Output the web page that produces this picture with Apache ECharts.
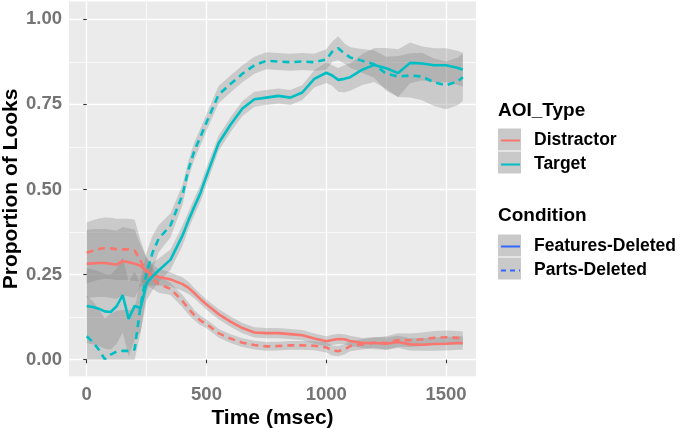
<!DOCTYPE html>
<html><head><meta charset="utf-8">
<script src="https://cdn.jsdelivr.net/npm/echarts@6/dist/echarts.min.js"></script>
<style>html,body{margin:0;padding:0;background:#fff}#c{width:685px;height:428px}</style>
</head><body><div id="c"></div>
<script>
// ---- data ----
const times = [0,25,50,75,100,125,150,175,200,225,250,275,300,350,400,425,450,475,500,550,600,650,700,750,800,850,900,950,1000,1025,1050,1075,1100,1150,1200,1250,1300,1350,1400,1450,1500,1550,1570];

// Target, Features-Deleted (solid teal)
const targetFeatures = [.158,.155,.150,.142,.140,.157,.190,.120,.158,.152,.225,.245,.262,.294,.365,.410,.451,.490,.540,.635,.690,.738,.765,.770,.775,.770,.785,.825,.843,.835,.822,.825,.830,.852,.866,.856,.842,.872,.870,.865,.865,.857,.852];
// Target, Parts-Deleted (dashed teal)
const targetParts = [.069,.052,.030,.002,.015,.024,.026,.026,.030,.160,.255,.315,.355,.395,.485,.560,.615,.655,.697,.778,.810,.840,.865,.878,.876,.874,.876,.874,.882,.905,.915,.900,.888,.878,.868,.840,.832,.835,.832,.815,.806,.818,.830];
// Distractor, Features-Deleted (solid red)
const distractorFeatures = [.282,.283,.284,.284,.282,.279,.290,.286,.282,.276,.260,.248,.243,.236,.222,.211,.195,.178,.162,.134,.112,.093,.080,.078,.078,.075,.072,.062,.054,.058,.061,.060,.055,.049,.049,.047,.052,.045,.044,.046,.047,.049,.049];
// Distractor, Parts-Deleted (dashed red)
const distractorParts = [.314,.320,.325,.328,.327,.324,.324,.324,.321,.290,.258,.238,.222,.208,.172,.150,.130,.115,.105,.078,.062,.050,.043,.039,.040,.042,.042,.041,.036,.027,.025,.030,.040,.045,.050,.049,.058,.057,.060,.064,.066,.064,.063];

// half-widths of the grey confidence ribbons
const seTargetFeatures = [.11,.11,.11,.11,.11,.11,.11,.11,.10,.07,.05,.04,.035,.03,.03,.025,.025,.025,.025,.022,.022,.022,.022,.022,.022,.022,.022,.025,.03,.03,.035,.04,.04,.045,.05,.06,.07,.06,.05,.05,.05,.05,.05];
const seTargetParts = [.12,.12,.12,.12,.12,.12,.12,.12,.12,.08,.06,.05,.04,.035,.03,.025,.025,.025,.025,.025,.025,.025,.025,.025,.025,.025,.025,.025,.03,.03,.035,.03,.03,.035,.04,.05,.06,.065,.07,.07,.07,.07,.07];
const seDistractorFeatures = [.10,.10,.10,.10,.10,.10,.10,.10,.10,.06,.04,.03,.025,.02,.02,.018,.015,.015,.015,.015,.015,.015,.015,.015,.015,.015,.015,.015,.015,.015,.015,.015,.015,.015,.018,.018,.018,.018,.018,.02,.02,.02,.02];
const seDistractorParts = [.09,.09,.09,.09,.09,.09,.09,.09,.09,.06,.04,.03,.025,.018,.018,.018,.015,.014,.013,.013,.013,.013,.013,.013,.013,.013,.013,.013,.015,.015,.015,.015,.015,.015,.015,.02,.02,.02,.02,.02,.02,.02,.02];

const xTicks = [0, 500, 1000, 1500];
const xMinorTicks = [250, 750, 1250];
const yTicks = [0, 0.25, 0.5, 0.75, 1];
const yMinorTicks = [0.125, 0.375, 0.625, 0.875];
const aoiTypes = ['Distractor', 'Target'];
const conditions = ['Features-Deleted', 'Parts-Deleted'];

// ---- styling ----
const FONT = '"Liberation Sans", Arial, Helvetica, sans-serif';
const RED = '#F8766D', TEAL = '#00BFC4', BLUE = '#3366FF';
const DASH = [7, 5];

function pairs(vals) { return times.map((t, i) => [t, vals[i]]); }

function ribbon(vals, se) {
  const lo = vals.map((v, i) => Math.max(0, v - se[i]));
  const hi = vals.map((v, i) => v + se[i]);
  return {
    type: 'custom', silent: true, clip: false, z: 2,
    data: times.map((t, i) => [t, lo[i], hi[i]]),
    encode: { x: 0, y: [1, 2] },
    renderItem: function (params, api) {
      if (params.dataIndex !== 0) return null;
      const pts = [];
      for (let i = 0; i < times.length; i++) pts.push(api.coord([times[i], hi[i]]));
      for (let i = times.length - 1; i >= 0; i--) pts.push(api.coord([times[i], lo[i]]));
      return { type: 'polygon', shape: { points: pts }, style: { fill: '#7f7f7f', opacity: 0.3 } };
    }
  };
}

function mainLine(name, vals, color, dashed) {
  return { type: 'line', name: name, data: pairs(vals), symbol: 'none', clip: false, z: 3,
    itemStyle: { color: color },
    lineStyle: { color: color, width: 2.6, type: dashed ? DASH : 'solid' } };
}

const series = [
  ribbon(distractorFeatures, seDistractorFeatures),
  ribbon(distractorParts, seDistractorParts),
  ribbon(targetFeatures, seTargetFeatures),
  ribbon(targetParts, seTargetParts),
  mainLine(aoiTypes[0], distractorFeatures, RED, false),
  mainLine(aoiTypes[0] + ' / ' + conditions[1], distractorParts, RED, true),
  mainLine(aoiTypes[1], targetFeatures, TEAL, false),
  mainLine(aoiTypes[1] + ' / ' + conditions[1], targetParts, TEAL, true),
  { type: 'line', name: conditions[0], data: [], symbol: 'none', itemStyle: { color: BLUE }, lineStyle: { color: BLUE, width: 2.6 } },
  { type: 'line', name: conditions[1], data: [], symbol: 'none', itemStyle: { color: BLUE }, lineStyle: { color: BLUE, width: 2.6, type: [5, 4] } }
];

const X_MIN = -74, X_MAX = 1625, Y_MIN = -0.0488, Y_MAX = 1.0523;

const legendText = { fontFamily: FONT, fontSize: 17.5, fontWeight: 'bold', color: '#000', padding: [0, 0, 0, 9] };
const titleText = { fontFamily: FONT, fontSize: 19, fontWeight: 'bold', color: '#000' };
const tickText = { fontFamily: FONT, fontSize: 18.5, fontWeight: 'bold', color: '#757575' };

const option = {
  animation: false,
  backgroundColor: '#fff',
  textStyle: { fontFamily: FONT },
  grid: { left: 69, right: 209, top: 1.5, bottom: 51.7, show: true, backgroundColor: '#EBEBEB', borderWidth: 0,
          containLabel: false, outerBoundsMode: 'none' },
  xAxis: [
    { type: 'value', min: X_MIN, max: X_MAX,
      axisLine: { show: false },
      axisTick: { show: true, length: 3.5, customValues: xTicks, lineStyle: { color: '#333', width: 1.1 } },
      axisLabel: Object.assign({ customValues: xTicks, formatter: v => String(v), margin: 9 }, tickText),
      splitLine: { show: true, lineStyle: { color: '#fff', width: 1.3 } },
      name: 'Time (msec)', nameLocation: 'middle', nameGap: 31, nameMoveOverlap: false,
      nameTextStyle: { fontFamily: FONT, fontSize: 21, fontWeight: 'bold', color: '#000' } },
    { type: 'value', min: X_MIN, max: X_MAX,
      axisLine: { show: false }, axisLabel: { show: false },
      axisTick: { show: false, customValues: xMinorTicks },
      splitLine: { show: true, lineStyle: { color: '#fff', width: 0.7 } } }
  ],
  yAxis: [
    { type: 'value', min: Y_MIN, max: Y_MAX,
      axisLine: { show: false },
      axisTick: { show: true, length: 3.5, customValues: yTicks, lineStyle: { color: '#333', width: 1.1 } },
      axisLabel: Object.assign({ customValues: yTicks, formatter: v => v.toFixed(2), margin: 7 }, tickText),
      splitLine: { show: true, lineStyle: { color: '#fff', width: 1.3 } },
      name: 'Proportion of Looks', nameLocation: 'middle', nameGap: 47, nameMoveOverlap: false,
      nameTextStyle: { fontFamily: FONT, fontSize: 21, fontWeight: 'bold', color: '#000' } },
    { type: 'value', min: Y_MIN, max: Y_MAX,
      axisLine: { show: false }, axisLabel: { show: false },
      axisTick: { show: false, customValues: yMinorTicks },
      splitLine: { show: true, lineStyle: { color: '#fff', width: 0.7 } } }
  ],
  title: [
    { text: 'AOI_Type', left: 498, top: 101, padding: 0, textStyle: titleText },
    { text: 'Condition', left: 498, top: 206, padding: 0, textStyle: titleText }
  ],
  legend: [
    { data: aoiTypes, orient: 'vertical', left: 500, top: 131.5, padding: 0, itemWidth: 19, itemHeight: 22, itemGap: 6,
      selectedMode: false, itemStyle: { opacity: 0 }, textStyle: legendText, z: 5 },
    { data: conditions, orient: 'vertical', left: 500, top: 237.5, padding: 0, itemWidth: 19, itemHeight: 22, itemGap: 6,
      selectedMode: false, itemStyle: { opacity: 0 }, textStyle: legendText, z: 5 }
  ],
  graphic: [
    { type: 'rect', left: 498, top: 128.5, z: 1, shape: { width: 23, height: 22 }, style: { fill: '#c9c9c9' } },
    { type: 'rect', left: 498, top: 151.5, z: 1, shape: { width: 23, height: 22 }, style: { fill: '#c9c9c9' } },
    { type: 'rect', left: 498, top: 234.5, z: 1, shape: { width: 23, height: 22 }, style: { fill: '#c9c9c9' } },
    { type: 'rect', left: 498, top: 257.5, z: 1, shape: { width: 23, height: 22 }, style: { fill: '#c9c9c9' } }
  ],
  series: series
};

const chart = echarts.init(document.getElementById('c'), null, { renderer: 'canvas' });
chart.setOption(option);
</script>
</body></html>
